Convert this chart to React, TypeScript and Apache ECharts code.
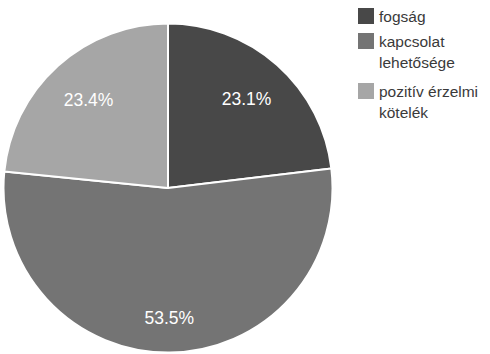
import React, { useEffect, useRef } from "react";
import * as echarts from "echarts";

const categories = ["fogság", "kapcsolat lehetősége", "pozitív érzelmi kötelék"];
const legendLines = [["fogság"], ["kapcsolat", "lehetősége"], ["pozitív érzelmi", "kötelék"]];
const values = [23.1, 53.5, 23.4];
const colors = ["#484848", "#747474", "#a6a6a6"];
const labelRadiusFactor = [0.72, 0.79, 0.72];
const legendTops = [5.25, 8.75, 58.75];

const FONT = "'Liberation Sans', Arial, Helvetica, sans-serif";

export default function App() {
  const ref = useRef<HTMLDivElement>(null);
  useEffect(() => {
    if (!ref.current) return;
    const chart = echarts.init(ref.current, null, { renderer: "svg" });
    const cx = 168;
    const cy = 188;
    const r = 164.5;
    const total = values.reduce((a, b) => a + b, 0);
    const cum: number[] = [];
    let acc = 0;
    values.forEach((v) => {
      cum.push(acc + v / 2);
      acc += v;
    });
    const lineH = 21.5;
    chart.setOption({
      animation: false,
      legend: categories.map((name, i) => ({
        data: [name],
        orient: "vertical",
        left: 358,
        top: legendTops[i],
        padding: 0,
        itemWidth: 16,
        itemHeight: 16,
        icon: "rect",
        itemStyle: { borderWidth: 0 },
        formatter: () =>
          (legendLines[i].length > 1 ? "\n" : "") + legendLines[i].join("\n"),
        textStyle: {
          fontFamily: FONT,
          fontSize: 15.5,
          color: "#3a3a3a",
          lineHeight: lineH,
        },
      })),
      series: [
        {
          type: "pie",
          center: [cx, cy],
          radius: r,
          startAngle: 90,
          clockwise: true,
          data: categories.map((name, i) => ({
            name,
            value: values[i],
            itemStyle: { color: colors[i] },
          })),
          itemStyle: { borderColor: "#ffffff", borderWidth: 2 },
          label: {
            show: true,
            position: "inside",
            formatter: (p: any) => p.value.toFixed(1) + "%",
            color: "#ffffff",
            fontFamily: FONT,
            fontSize: 17.5,
          },
          labelLine: { show: false },
          labelLayout: (params: any) => {
            const i = params.dataIndex;
            const ang = (cum[i] / total) * Math.PI * 2;
            const d = r * labelRadiusFactor[i];
            return {
              x: cx + d * Math.sin(ang),
              y: cy - d * Math.cos(ang),
              align: "center",
              verticalAlign: "middle",
            };
          },
          emphasis: { disabled: true },
        },
      ],
    });
    return () => chart.dispose();
  }, []);
  return (
    <div
      ref={ref}
      style={{ position: "absolute", left: 0, top: 0, width: 490, height: 354 }}
    />
  );
}
